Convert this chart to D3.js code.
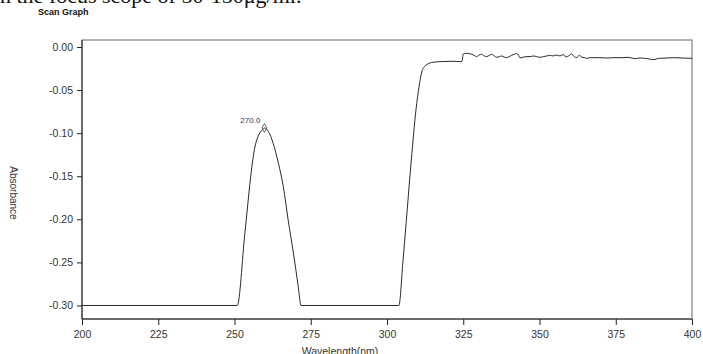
<!DOCTYPE html>
<html>
<head>
<meta charset="utf-8">
<script src="https://cdn.jsdelivr.net/npm/d3@7"></script>
<style>
	body { margin: 0; background: #fff; }
	svg { display: block; }
</style>
</head>
<body>
<svg id="chart" width="703" height="354"></svg>
<script>

// scan readings (wavelength nm, absorbance)
const wavelength = [200, 250.9, 253.4, 256.0, 256.7, 257.3, 258.1, 258.9, 259.8, 261.1, 262.7, 264.4, 266.0, 267.6, 269.3, 270.9, 271.8,
	303.9, 305.2, 306.6, 308.0, 309.5, 310.5, 311.4, 312.5, 314.7, 317.4, 321.6, 323.9, 324.6,
	325.0, 326.1, 327.0, 327.8, 328.6, 329.4, 330.2, 331.0, 331.9, 332.7, 333.5, 334.3, 335.2, 336.0, 336.8, 337.6, 338.4, 339.2,
	340.1, 340.9, 341.7, 342.5, 343.1, 343.6, 344.9, 345.9, 346.9, 348.0, 349.1, 350.2, 351.3, 352.4, 353.5, 354.5, 355.6, 356.7,
	357.8, 358.7, 359.5, 360.5, 361.4, 362.2, 363.0, 363.8, 364.7, 365.5, 366.6, 367.7, 369.8, 372.0, 374.4, 377.0, 379.0, 381.2,
	383.0, 385.2, 387.5, 389.0, 391.8, 394.0, 397.0, 400.0];
const absorbance = [-0.300, -0.300, -0.216, -0.131, -0.116, -0.108, -0.101, -0.097, -0.094, -0.098, -0.112, -0.135, -0.162, -0.201, -0.239, -0.278, -0.300,
	-0.300, -0.250, -0.190, -0.130, -0.073, -0.046, -0.029, -0.022, -0.018, -0.017, -0.0166, -0.017, -0.0168,
	-0.0081, -0.0073, -0.0078, -0.0085, -0.0097, -0.0112, -0.0093, -0.0085, -0.0104, -0.0112, -0.0097, -0.0085, -0.0104, -0.0120, -0.0112, -0.0104, -0.0116, -0.0124,
	-0.0112, -0.0097, -0.0085, -0.0077, -0.0093, -0.0128, -0.0116, -0.0112, -0.0112, -0.0104, -0.0112, -0.0120, -0.0112, -0.0104, -0.0097, -0.0104, -0.0093, -0.0104,
	-0.0089, -0.0116, -0.0104, -0.0081, -0.0112, -0.0124, -0.0097, -0.0116, -0.0124, -0.0132, -0.0124, -0.0124, -0.0124, -0.0128, -0.0124, -0.0124, -0.0120, -0.0135,
	-0.0128, -0.0135, -0.0147, -0.0132, -0.0128, -0.0124, -0.0128, -0.0132];

const xTicks = [200, 225, 250, 275, 300, 325, 350, 375, 400];
const yTicks = [0, -0.05, -0.10, -0.15, -0.20, -0.25, -0.30];

// picked peak
const peakWavelength = 259.8;
const peakAbsorbance = -0.094;
const peakLabel = '270.0';

const svg = d3.select('#chart');
const plotLeft = 82, plotRight = 692, plotTop = 40, plotBottom = 319;

const x = d3.scaleLinear().domain([200, 400]).range([plotLeft, plotRight]);
const y = d3.scaleLinear().domain([-0.3157, 0.0081]).range([plotBottom, plotTop]);

// page text cut off above the figure
svg.append('text')
	.attr('x', 0).attr('y', 3)
	.attr('font-family', 'Liberation Serif')
	.attr('font-size', 22)
	.attr('fill', '#111')
	.text('n the focus scope of 50-150μg/ml.');

svg.append('text')
	.attr('x', 38).attr('y', 15)
	.attr('font-family', 'Liberation Sans, Arial')
	.attr('font-weight', 'bold')
	.attr('font-size', 9)
	.attr('fill', '#111')
	.text('Scan Graph');

// frame
svg.append('rect')
	.attr('x', plotLeft).attr('y', plotTop)
	.attr('width', plotRight - plotLeft).attr('height', plotBottom - plotTop)
	.attr('fill', 'none')
	.attr('stroke', '#666')
	.attr('stroke-width', 1);

const xAxis = svg.append('g')
	.attr('transform', `translate(0,${plotBottom})`)
	.call(d3.axisBottom(x).tickValues(xTicks).tickSize(6).tickPadding(6).tickFormat(d3.format('d')));

const yAxis = svg.append('g')
	.attr('transform', `translate(${plotLeft},0)`)
	.call(d3.axisLeft(y).tickValues(yTicks).tickSize(5).tickPadding(4).tickFormat(d => d.toFixed(2)));

[xAxis, yAxis].forEach(function(ax) {
	ax.select('.domain').attr('stroke', '#222');
	ax.selectAll('.tick line').attr('stroke', '#222');
	ax.selectAll('.tick text')
		.attr('font-family', 'Liberation Sans, Arial')
		.attr('font-size', 10.5)
		.attr('fill', '#333');
});
xAxis.select('.domain').attr('d', `M${plotLeft},0H${plotRight}`);
yAxis.select('.domain').attr('d', `M0,${plotTop}V${plotBottom}`);

svg.append('text')
	.attr('transform', 'translate(10,193) rotate(90)')
	.attr('text-anchor', 'middle')
	.attr('font-family', 'Liberation Sans, Arial')
	.attr('font-size', 10)
	.attr('fill', '#333')
	.text('Absorbance');

svg.append('text')
	.attr('x', 340).attr('y', 355)
	.attr('text-anchor', 'middle')
	.attr('font-family', 'Liberation Sans, Arial')
	.attr('font-size', 10.5)
	.attr('fill', '#333')
	.text('Wavelength(nm)');

const points = wavelength.map((w, i) => [w, absorbance[i]]);

svg.append('path')
	.datum(points)
	.attr('d', d3.line().x(d => x(d[0])).y(d => y(d[1])).curve(d3.curveMonotoneX))
	.attr('fill', 'none')
	.attr('stroke', '#2a2a2a')
	.attr('stroke-width', 1);

svg.append('path')
	.attr('d', d3.symbol(d3.symbolDiamond, 22)())
	.attr('transform', `translate(${x(peakWavelength)},${y(peakAbsorbance)})`)
	.attr('fill', 'none')
	.attr('stroke', '#444')
	.attr('stroke-width', 0.8);

svg.append('text')
	.attr('x', x(peakWavelength) - 14).attr('y', y(peakAbsorbance) - 5)
	.attr('text-anchor', 'middle')
	.attr('font-family', 'Liberation Sans, Arial')
	.attr('font-size', 8)
	.attr('fill', '#334')
	.text(peakLabel);

</script>
</body>
</html>
